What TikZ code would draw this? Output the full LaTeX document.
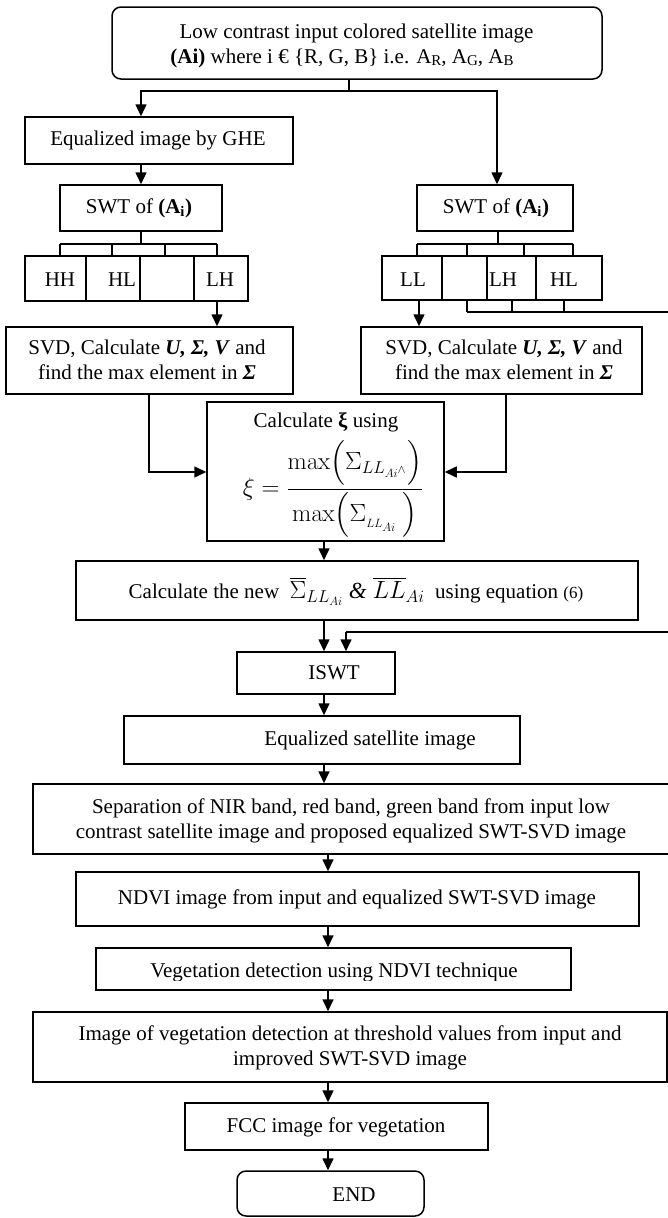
\documentclass[tikz,border=0pt]{standalone}
\usepackage{amsmath}
\usepackage[no-math]{fontspec}
\setmainfont{Liberation Serif}
\usetikzlibrary{arrows.meta}
\tikzset{
  box/.style={draw, line width=1.5pt, inner sep=0pt},
  rbox/.style={box, rounded corners=9pt},
  conn/.style={line width=1.6pt},
  arr/.style={conn, -{Triangle[width=11pt,length=12pt]}},
  tree/.style={line width=1.1pt},
  txt/.style={font=\fontsize{21}{25}\selectfont, inner sep=0pt, align=center},
}
\newcommand{\bx}[6]{\node[#1, minimum width=#4pt, minimum height=#5pt] (#2) at (#3) {#6};}
\newcommand{\sbs}[1]{\raisebox{-0.28ex}{\fontsize{15}{15}\selectfont #1}}
\begin{document}
\begin{tikzpicture}[x=1pt,y=-1pt]
\useasboundingbox (0,0) rectangle (668,1218);
\fill[white] (0,0) rectangle (668,1218);

% boxes
\bx{rbox}{top}{357,43}{490}{72}{}
\bx{box}{ghe}{159,140.5}{268}{47}{}
\bx{box}{swtL}{141,208}{162}{46}{}
\bx{box}{HH}{55.5,278.5}{61}{45}{}
\bx{box}{HLl}{113,278.5}{54}{45}{}
\bx{box}{EL}{167,278.5}{54}{45}{}
\bx{box}{LHl}{221,278.5}{54}{45}{}
\bx{box}{svdL}{149.5,360.5}{287}{67}{}
\bx{box}{swtR}{495,208}{156}{46}{}
\bx{box}{LL}{412,278}{60}{44}{}
\bx{box}{ER}{464.5,278}{45}{44}{}
\bx{box}{LHr}{511.5,278}{49}{44}{}
\bx{box}{HLr}{569,278}{66}{44}{}
\bx{box}{svdR}{501.5,360.5}{281}{67}{}
\bx{box}{xi}{325.5,471.5}{237}{139}{}
\bx{box}{new}{357,590.5}{562}{59}{}
\bx{box}{iswt}{316,673}{158}{42}{}
\bx{box}{eqs}{322,740}{396}{48}{}
\bx{box}{sep}{361.5,819}{657}{70}{}
\bx{box}{ndvi}{357.5,899}{563}{54}{}
\bx{box}{veg}{333.5,969}{475}{42}{}
\bx{box}{img}{350,1047}{634}{70}{}
\bx{box}{fcc}{336.5,1126.5}{303}{47}{}
\bx{rbox}{end}{330.5,1193.5}{187}{45}{}

% texts
\node[txt] (t-top1) at (356.5,33) {Low contrast input colored satellite image};
\node[txt] (t-top2) at (342,58) {\textbf{(Ai)} where i € \{R, G, B\} i.e. A\sbs{R}, A\sbs{G}, A\sbs{B}};
\node[txt] (t-ghe) at (158,140) {Equalized image by GHE};
\node[txt] (t-swtL) at (139,208) {SWT of \textbf{(A\textsubscript{i})}};
\node[txt] (t-HH) at (60,280) {HH};
\node[txt] (t-HL) at (122,280) {HL};
\node[txt] (t-LHl) at (220,280) {LH};
\node[txt] (t-svdL) at (147,360) {SVD, Calculate \textbf{\textit{U, Σ, V}} and\\find the max element in \textbf{\textit{Σ}}};
\node[txt] (t-swtR) at (496,208) {SWT of \textbf{(A\textsubscript{i})}};
\node[txt] (t-LL) at (413,280) {LL};
\node[txt] (t-LHr) at (503,280) {LH};
\node[txt] (t-HLr) at (564,280) {HL};
\node[txt] (t-svdR) at (504,360) {SVD, Calculate \textbf{\textit{U, Σ, V}} and\\find the max element in \textbf{\textit{Σ}}};
\node[txt] (t-xi1) at (326,422) {Calculate \textbf{ξ} using};
\node[txt, font=\fontsize{24}{25}\selectfont] (t-xi2) at (333,489) {$\xi=\dfrac{\max\Bigl(\Sigma_{LL_{Ai^{\wedge}}}\Bigr)}{\max\Bigl(\Sigma_{{}_{LL_{Ai}}}\ \Bigr)}$};
\node[txt] (t-new) at (356,591) {Calculate the new \ {\fontsize{23}{25}\selectfont$\overline{\Sigma}_{LL_{Ai}}$ \textit{\&} $\overline{LL}_{Ai}$} \ using equation {\fontsize{17}{20}\selectfont(6)}};
\node[txt] (t-iswt) at (334,673) {ISWT};
\node[txt] (t-eqs) at (370,740) {Equalized satellite image};
\node[txt] (t-sep) at (351,821) {Separation of NIR band, red band, green band from input low\\contrast satellite image and proposed equalized SWT-SVD image};
\node[txt] (t-ndvi) at (357,899) {NDVI image from input and equalized SWT-SVD image};
\begin{scope}
\clip (97,949) rectangle (570,980);
\node[txt, anchor=base] (t-veg) at (334,977.5) {Vegetation detection using NDVI technique};
\end{scope}
\node[txt] (t-img) at (350,1048) {Image of vegetation detection at threshold values from input and\\improved SWT-SVD image};
\node[txt] (t-fcc) at (336,1127) {FCC image for vegetation};
\node[txt] (t-end) at (354,1195) {END};

% connector coordinates
\coordinate (j0) at (349,91);
\coordinate (jL) at (141,91);
\coordinate (jR) at (497,91);
\coordinate (cL) at (149,472);
\coordinate (cR) at (506,472);
\coordinate (ax) at (324,0);
\coordinate (bx) at (328,0);
\coordinate (rx1) at (690,312);
\coordinate (rx2) at (690,632);
\coordinate (rin) at (346,632);

% top split
\draw[arr] (top.south -| j0) -- (j0) -| (ghe.north -| jL);
\draw[arr] (j0) -| (swtR.north -| jR);
\draw[arr] (ghe.south -| jL) -- (swtL.north -| jL);

% left tree
\draw[tree] (swtL.south) -- (141,244);
\draw[tree] (60,244) -- (217,244);
\foreach \x in {60,112,165,217} \draw[tree] (\x,244) -- (\x,256);
\draw[arr] ([xshift=-4pt]LHl.south) -- ([xshift=-4pt]LHl.south |- svdL.north);

% right tree
\draw[tree] ([xshift=3pt]swtR.south) -- (498,244);
\draw[tree] (417,244) -- (573,244);
\foreach \x in {417,467,524,573} \draw[tree] (\x,244) -- (\x,256);
\draw[arr] ([xshift=7pt]LL.south) -- ([xshift=7pt]LL.south |- svdR.north);
\foreach \x in {467,512,564} \draw[tree] (\x,300) -- (\x,312);
\draw[conn] (467,312) -- (rx1) -- (rx2) -- (rin);
\draw[arr] (rin) -- (iswt.north -| rin);

% into xi
\draw[arr] (svdL.south -| cL) -- (cL) -- (xi.west |- cL);
\draw[arr] (svdR.south -| cR) -- (cR) -- (xi.east |- cR);

% main chain
\draw[arr] (xi.south -| ax) -- (new.north -| ax);
\draw[arr] (new.south -| ax) -- (iswt.north -| ax);
\draw[arr] (iswt.south -| ax) -- (eqs.north -| ax);
\draw[arr] (eqs.south -| ax) -- (sep.north -| ax);
\draw[arr] (sep.south -| bx) -- (ndvi.north -| bx);
\draw[arr] (ndvi.south -| bx) -- (veg.north -| bx);
\draw[arr] (veg.south -| bx) -- (img.north -| bx);
\draw[arr] (img.south -| bx) -- (fcc.north -| bx);
\draw[arr] (fcc.south -| bx) -- (end.north -| bx);
\end{tikzpicture}
\end{document}
